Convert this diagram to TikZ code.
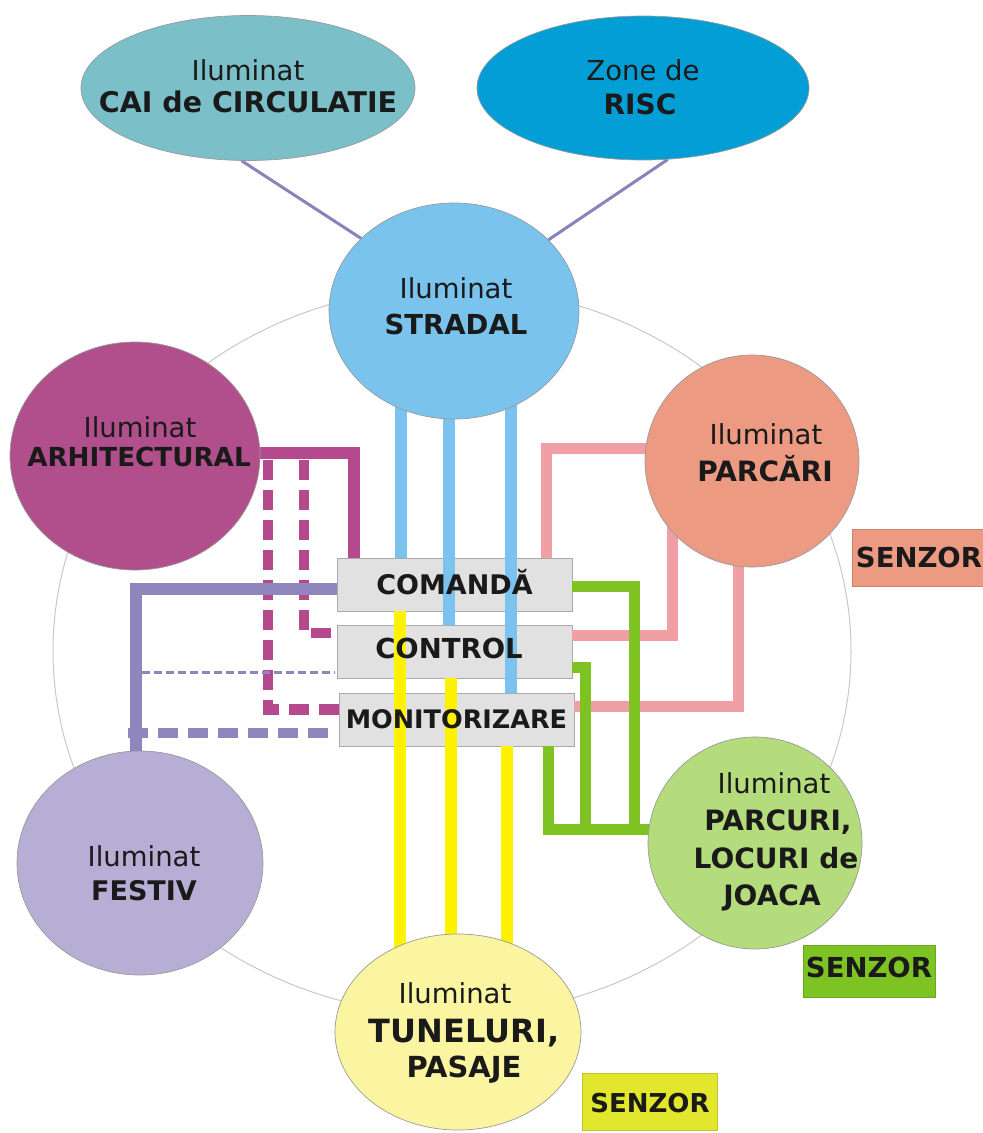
\documentclass[tikz,border=0pt]{standalone}
\usepackage{fontspec}
\setmainfont{DejaVu Sans}
\usetikzlibrary{shapes.geometric}
\pgfdeclarelayer{bg}\pgfdeclarelayer{boxes}\pgfdeclarelayer{lines}
\pgfsetlayers{bg,boxes,lines,main}
\definecolor{ccai}{HTML}{7BBFC8}
\definecolor{crisc}{HTML}{039ED6}
\definecolor{cstr}{HTML}{79C3ED}
\definecolor{carh}{HTML}{B14E8C}
\definecolor{cparc}{HTML}{EC9A82}
\definecolor{cfes}{HTML}{B6AED5}
\definecolor{cpk}{HTML}{B4DB7C}
\definecolor{ctun}{HTML}{FBF5A2}
\definecolor{lblue}{HTML}{79C3EE}
\definecolor{lyel}{HTML}{FFF200}
\definecolor{lmag}{HTML}{B5498E}
\definecolor{llav}{HTML}{8E86BD}
\definecolor{lpink}{HTML}{F0A0A5}
\definecolor{lgreen}{HTML}{7EC322}
\definecolor{ltop}{HTML}{8A82BA}
\definecolor{cring}{HTML}{C8C8C8}
\definecolor{boxfill}{HTML}{E1E1E1}
\definecolor{boxline}{HTML}{AAAAAA}
\definecolor{txt}{HTML}{1A1A1A}
\definecolor{sparc}{HTML}{EC9A82}
\definecolor{sgreen}{HTML}{7EC324}
\definecolor{syel}{HTML}{E2E62C}
\definecolor{circline}{HTML}{9A9A9A}
\tikzset{
  circ/.style={ellipse, draw=circline, line width=0.7pt, inner sep=0pt},
  reg/.style={anchor=base, inner sep=0pt, text=txt, font=\fontsize{27.5}{33}\selectfont},
  bld/.style={anchor=base, inner sep=0pt, text=txt, font=\fontsize{#1}{33}\selectfont\bfseries},
  bld/.default=27,
  cbox/.style={rectangle, draw=boxline, fill=boxfill, line width=0.8pt, inner sep=0pt, minimum width=235pt, minimum height=53pt},
  sensbox/.style={rectangle, line width=0.6pt, inner sep=0pt},
  wire/.style={line width=12pt, line join=miter, line cap=butt},
  pwire/.style={line width=11pt, line join=miter, line cap=butt},
  dwire/.style={line width=10.5pt, line cap=butt, dash pattern=on 20pt off 10pt},
  thinwire/.style={line width=3pt},
}
\begin{document}
\begin{tikzpicture}[x=1pt,y=-1pt]
\useasboundingbox (0,0) rectangle (983,1133);
% background ring
\begin{pgfonlayer}{bg}
\node[ellipse, draw=cring, line width=1pt, inner sep=0pt, minimum width=798pt, minimum height=728pt] (ring) at (452,651) {};
\end{pgfonlayer}
% central boxes
\begin{pgfonlayer}{boxes}
\node[cbox] (com) at (454.5,584.5) {};
\node[cbox] (ctl) at (454.5,651.5) {};
\node[cbox] (mon) at (456.5,719.5) {};
\end{pgfonlayer}
\node[bld=27] (comt) at (454.5,594) {COMANDĂ};
\node[bld=27.5] (ctlt) at (449,658) {CONTROL};
\node[bld=25.5] (mont) at (456.5,728) {MONITORIZARE};
% circles
\node[circ, fill=ccai, minimum width=334pt, minimum height=145pt] (cai) at (248,88) {};
\node[circ, fill=crisc, minimum width=332pt, minimum height=144pt] (risc) at (643,88) {};
\node[circ, fill=cstr, minimum width=250pt, minimum height=216pt] (str) at (454,311) {};
\node[circ, fill=carh, minimum width=250pt, minimum height=228pt] (arh) at (135,456) {};
\node[circ, fill=cparc, minimum width=214pt, minimum height=212pt] (parc) at (752,461) {};
\node[circ, fill=cpk, minimum width=214pt, minimum height=212pt] (pk) at (755,843) {};
\node[circ, fill=cfes, minimum width=246pt, minimum height=224pt] (fes) at (140,863) {};
\node[circ, fill=ctun, minimum width=246pt, minimum height=196pt] (tun) at (458,1032) {};
% circle texts
\node[reg] (cai1) at (248,80) {Iluminat};
\node[bld=28.5] (cai2) at (248,112) {CAI de CIRCULATIE};
\node[reg] (risc1) at (643,80) {Zone de};
\node[bld=28] (risc2) at (640,114) {RISC};
\node[reg] (str1) at (456,298) {Iluminat};
\node[bld=27.5] (str2) at (456,334) {STRADAL};
\node[reg] (arh1) at (140,437) {Iluminat};
\node[bld=26.2] (arh2) at (139,466) {ARHITECTURAL};
\node[reg] (parc1) at (766,444) {Iluminat};
\node[bld=28] (parc2) at (765,481) {PARCĂRI};
\node[reg] (pk1) at (774,793) {Iluminat};
\node[bld=28] (pk2) at (778,830) {PARCURI,};
\node[bld=28] (pk3) at (776,868) {LOCURI de};
\node[bld=28] (pk4) at (772,905) {JOACA};
\node[reg] (fes1) at (144,866) {Iluminat};
\node[bld] (fes2) at (144,900) {FESTIV};
\node[reg] (tun1) at (455,1003) {Iluminat};
\node[bld=32] (tun2) at (464,1042) {TUNELURI,};
\node[bld=29] (tun3) at (464,1077) {PASAJE};
% sensors
\node[sensbox, fill=sparc, draw=sparc!85!black, minimum width=131pt, minimum height=57pt] (s1) at (917.5,557.5) {};
\node[bld=27.5] (s1t) at (919,567) {SENZOR};
\node[sensbox, fill=sgreen, draw=sgreen!85!black, minimum width=132pt, minimum height=52pt] (s2) at (869,971) {};
\node[bld=27.5] (s2t) at (869,977) {SENZOR};
\node[sensbox, fill=syel, draw=syel!85!black, minimum width=135pt, minimum height=57pt] (s3) at (649.5,1101.5) {};
\node[bld=26] (s3t) at (650,1112) {SENZOR};
% helper coordinates
\coordinate (xb1) at (400.5,0);
\coordinate (xb2) at (449.3,0);
\coordinate (xb3) at (510.7,0);
\coordinate (xy1) at (400.3,0);
\coordinate (xy2) at (450.5,0);
\coordinate (xy3) at (507,0);
\coordinate (m1) at (354,453);
\coordinate (m2) at (304,460);
\coordinate (m2b) at (304,633);
\coordinate (m2e) at (332,633);
\coordinate (m3) at (268,460);
\coordinate (m3b) at (268,709.5);
\coordinate (l1) at (135.7,589);
\coordinate (l2) at (142,672);
\coordinate (l2e) at (335,672);
\coordinate (l3) at (128,733);
\coordinate (l3e) at (331,733);
\coordinate (p1) at (546,448);
\coordinate (p2) at (672.3,635.5);
\coordinate (p3) at (738,706);
\coordinate (g1) at (634,586.7);
\coordinate (g2) at (585,667);
\coordinate (g3) at (548,829.5);
\begin{pgfonlayer}{lines}
% top links
\draw[thinwire, ltop] (cai.265) -- (str.142.5);
\draw[thinwire, ltop] (risc.-71.6) -- (str.37.9);
% stradal (blue)
\draw[wire, lblue] (xb1 |- str.center) -- (xb1 |- com.north);
\draw[wire, lblue] (xb2 |- str.center) -- (xb2 |- ctl.north);
\draw[wire, lblue] (xb3 |- str.center) -- (xb3 |- mon.north);
% tuneluri (yellow)
\draw[wire, lyel] (xy1 |- com.south) -- (xy1 |- tun.center);
\draw[wire, lyel] (xy2 |- ctl.south) -- (xy2 |- tun.center);
\draw[wire, lyel] (xy3 |- mon.south) -- (xy3 |- tun.center);
% arhitectural (magenta)
\draw[wire, lmag] (arh.center |- m1) -- (m1) -- (m1 |- com.north);
\draw[dwire, lmag] (m2) -- (m2b) -- (m2e);
\draw[dwire, lmag] (m3) -- (m3b) -- (m3b -| mon.west);
% festiv (lavender)
\draw[wire, llav] (fes.center -| l1) -- (l1) -- (l1 -| com.west);
\draw[thinwire, llav, dash pattern=on 8pt off 4pt] (l2) -- (l2e);
\draw[dwire, llav] (l3) -- (l3e);
% parcari (pink)
\draw[pwire, lpink] (p1 |- com.north) -- (p1) -- (p1 -| parc.center);
\draw[pwire, lpink] (p2 -| ctl.east) -- (p2) -- (p2 |- parc.center);
\draw[pwire, lpink] (p3 -| mon.east) -- (p3) -- (p3 |- parc.center);
% parcuri (green)
\draw[pwire, lgreen] (g1 -| com.east) -- (g1) -- (g1 |- g3);
\draw[pwire, lgreen] (g2 -| ctl.east) -- (g2) -- (g2 |- g3);
\draw[pwire, lgreen] (g3 |- mon.south) -- (g3) -- (g3 -| pk.center);
\end{pgfonlayer}
\end{tikzpicture}
\end{document}
